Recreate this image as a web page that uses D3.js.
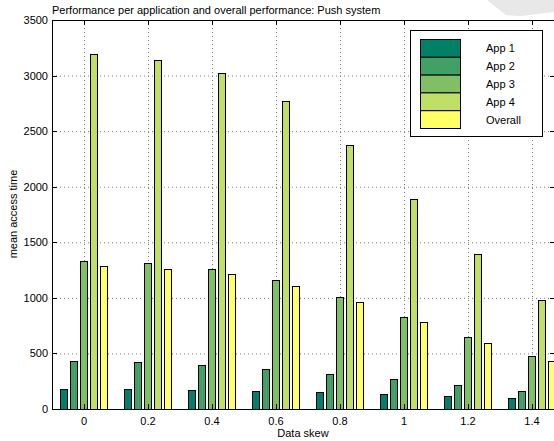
<!DOCTYPE html>
<html><head><meta charset="utf-8">
<script src="https://cdn.jsdelivr.net/npm/d3@7"></script>
<style>body{margin:0;background:#fff}svg{display:block}text{font-family:"Liberation Sans",Arial,sans-serif}</style>
</head><body>
<svg id="c" width="554" height="441"></svg>
<script>
const categories = [0, 0.2, 0.4, 0.6, 0.8, 1, 1.2, 1.4];
const seriesNames = ["App 1", "App 2", "App 3", "App 4", "Overall"];
const app1 = [177, 177, 168, 162, 150, 135, 120, 102];
const app2 = [435, 420, 393, 360, 315, 267, 216, 165];
const app3 = [1335, 1311, 1260, 1158, 1011, 831, 645, 474];
const app4 = [3191, 3137, 3020, 2770, 2375, 1885, 1395, 978];
const overall = [1284, 1260, 1212, 1110, 963, 780, 591, 429];
const colors = ["#008066", "#40a066", "#80bf66", "#bfdf66", "#ffff66"];
const yTicks = [0, 500, 1000, 1500, 2000, 2500, 3000, 3500];
const xTickLabels = ["0", "0.2", "0.4", "0.6", "0.8", "1", "1.2", "1.4"];
const series = [app1, app2, app3, app4, overall];

const svg = d3.select("#c");
const L = 52, T = 20, B = 409, R = 555;
const x = d3.scaleLinear().domain([-0.1, 1.5]).range([L, L + 512]);
const y = d3.scaleLinear().domain([0, 3500]).range([B, T]);
const pitch = 10, bw = 8;

// watermark shape
svg.append("polygon").attr("points", "487,0 554,0 554,12 521,16 506,15").attr("fill", "#e8e8e8");

// title
svg.append("text").attr("x", L).attr("y", 14).attr("font-size", 11).text("Performance per application and overall performance: Push system");

// grid
const g = svg.append("g");
g.selectAll("line.hg").data(yTicks.slice(1, -1)).join("line")
  .attr("x1", L).attr("x2", R).attr("y1", d => y(d) + 0.5).attr("y2", d => y(d) + 0.5)
  .attr("stroke", "#777").attr("stroke-dasharray", "1,3");
g.selectAll("line.vg").data(categories).join("line")
  .attr("x1", d => Math.round(x(d)) + 0.5).attr("x2", d => Math.round(x(d)) + 0.5).attr("y1", T).attr("y2", B)
  .attr("stroke", "#777").attr("stroke-dasharray", "1,3");

// bars
series.forEach((vals, si) => {
  svg.append("g").selectAll("rect").data(vals).join("rect")
    .attr("x", (d, i) => Math.round(x(categories[i]) + (si - 2) * pitch - bw / 2) + 0.5)
    .attr("y", d => Math.round(y(d)) + 0.5)
    .attr("width", bw - 1)
    .attr("height", d => Math.round(y(0)) - Math.round(y(d)))
    .attr("fill", colors[si]).attr("stroke", "#000").attr("stroke-width", 1);
});

// frame
svg.append("path").attr("d", `M${R + 0.5},${T + 0.5}H${L + 0.5}V${B + 0.5}H${R + 0.5}`).attr("fill", "none").attr("stroke", "#000");
svg.append("line").attr("x1", R + 0.5).attr("x2", R + 0.5).attr("y1", T).attr("y2", B).attr("stroke", "#000");

// ticks
const tk = 5;
yTicks.forEach(v => {
  const yy = Math.round(y(v)) + 0.5;
  svg.append("line").attr("x1", L).attr("x2", L + tk).attr("y1", yy).attr("y2", yy).attr("stroke", "#000");
  svg.append("line").attr("x1", R - tk).attr("x2", R).attr("y1", yy).attr("y2", yy).attr("stroke", "#000");
});
categories.forEach(c => {
  const xx = Math.round(x(c)) + 0.5;
  svg.append("line").attr("x1", xx).attr("x2", xx).attr("y1", T).attr("y2", T + tk).attr("stroke", "#000");
  svg.append("line").attr("x1", xx).attr("x2", xx).attr("y1", B - tk).attr("y2", B).attr("stroke", "#000");
});

// y tick labels
svg.append("g").selectAll("text").data(yTicks).join("text")
  .attr("x", L - 4).attr("y", d => y(d) + 4).attr("text-anchor", "end").attr("font-size", 11).text(d => d);
// x tick labels
svg.append("g").selectAll("text").data(categories).join("text")
  .attr("x", d => x(d)).attr("y", 425).attr("text-anchor", "middle").attr("font-size", 11)
  .text((d, i) => xTickLabels[i]);

// axis titles
svg.append("text").attr("x", 303).attr("y", 437).attr("text-anchor", "middle").attr("font-size", 11).text("Data skew");
svg.append("text").attr("transform", "translate(17,214) rotate(-90)").attr("text-anchor", "middle").attr("font-size", 11).text("mean access time");

// legend
const lg = svg.append("g");
lg.append("rect").attr("x", 410.5).attr("y", 30.5).attr("width", 132).attr("height", 106).attr("fill", "#fff").attr("stroke", "#000");
const sh = 17.8;
seriesNames.forEach((n, i) => {
  lg.append("rect").attr("x", 420.5).attr("y", 39.5 + i * sh).attr("width", 40).attr("height", sh)
    .attr("fill", colors[i]).attr("stroke", "#000");
  lg.append("text").attr("x", 486).attr("y", 39.5 + i * sh + sh / 2 + 4).attr("font-size", 11).text(n);
});
</script>
</body></html>
